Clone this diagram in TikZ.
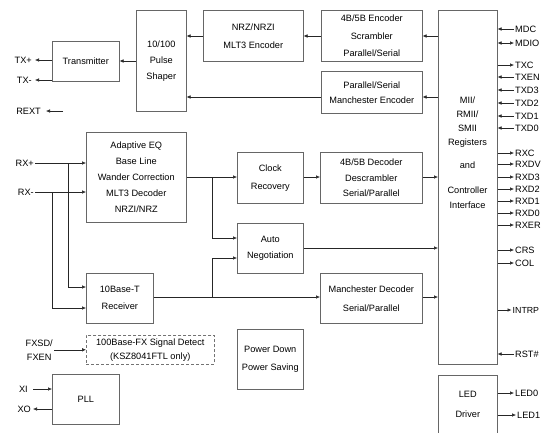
\documentclass[tikz,border=0pt]{standalone}
\usepackage{fontspec}
\setmainfont{Liberation Sans}
\usetikzlibrary{arrows.meta}
\newcommand\myfs[1]{\fontsize{9.2}{#1}\selectfont}
\begin{document}
\begin{tikzpicture}[x=1pt,y=-1pt,
  blk/.style={draw=black!60, line width=0.6pt, align=center, inner sep=0pt, anchor=north west},
  arr/.style={draw=black!85, line width=0.6pt, -{Latex[length=4pt,width=3.6pt]}},
  darr/.style={draw=black!85, line width=0.6pt, {Latex[length=4pt,width=3.6pt]}-{Latex[length=4pt,width=3.6pt]}},
  ln/.style={draw=black!85, line width=0.6pt},
  sig/.style={inner sep=1pt, font=\myfs{11}},
]
\useasboundingbox (0,0) rectangle (541,432);

% ---- blocks ----
\node[blk, minimum width=67pt, minimum height=40pt, font=\myfs{11}] (tx) at (52,41) {Transmitter};
\node[blk, minimum width=50pt, minimum height=101pt, font=\myfs{16}] (ps) at (136,10) {10/100\\Pulse\\Shaper};
\node[blk, minimum width=100pt, minimum height=51pt, font=\myfs{18}] (nrz) at (203,10) {NRZ/NRZI\\MLT3 Encoder};
\node[blk, minimum width=101pt, minimum height=51pt, font=\myfs{17.5}] (enc) at (321,10) {4B/5B Encoder\\Scrambler\\Parallel/Serial};
\node[blk, minimum width=101pt, minimum height=42pt, font=\myfs{15}] (menc) at (321,71) {Parallel/Serial\\Manchester Encoder};
\node[blk, minimum width=59pt, minimum height=354pt] (mii) at (438,10) {};
\node[align=center, inner sep=0pt, anchor=north, font=\myfs{14}] (miitxt) at (467.5,96.5)
  {MII/\\RMII/\\SMII\\Registers\\[9pt]and\\[11pt]Controller\\[1pt]Interface};
\node[blk, minimum width=100pt, minimum height=90pt, font=\myfs{16}] (aeq) at (86,132)
  {Adaptive EQ\\Base Line\\Wander Correction\\MLT3 Decoder\\NRZI/NRZ};
\node[blk, minimum width=66pt, minimum height=51pt, font=\myfs{18}] (clk) at (237,152) {Clock\\Recovery};
\node[blk, minimum width=102pt, minimum height=51pt, font=\myfs{15.5}] (dec) at (320,152) {4B/5B Decoder\\Descrambler\\Serial/Parallel};
\node[blk, minimum width=66pt, minimum height=50pt, font=\myfs{16}] (an) at (237,223) {Auto\\Negotiation};
\node[blk, minimum width=67pt, minimum height=50pt, font=\myfs{17}] (rx10) at (86,273) {10Base-T\\Receiver};
\node[blk, minimum width=102pt, minimum height=50pt, font=\myfs{19}] (mdec) at (320,273) {Manchester Decoder\\Serial/Parallel};
\node[blk, draw=black!55, dash pattern=on 3pt off 2pt, minimum width=128pt, minimum height=29pt, font=\myfs{14}] (fx) at (86,335)
  {100Base-FX Signal Detect\\(KSZ8041FTL only)};
\node[blk, minimum width=66pt, minimum height=60pt, font=\myfs{18}] (pwr) at (237,329) {Power Down\\Power Saving};
\node[blk, minimum width=67pt, minimum height=50pt, font=\myfs{11}] (pll) at (52,374) {PLL};
\node[blk, minimum width=59pt, minimum height=58pt, font=\myfs{20}] (led) at (438,375) {LED\\Driver};

% ---- internal connectors ----
\draw[arr] (mii.west |- 0,36) -- (enc.east |- 0,36);
\draw[arr] (enc.west |- 0,36) -- (nrz.east |- 0,36);
\draw[arr] (nrz.west |- 0,36) -- (ps.east |- 0,36);
\draw[arr] (mii.west |- 0,97) -- (menc.east |- 0,97);
\draw[arr] (menc.west |- 0,97) -- (ps.east |- 0,97);
\draw[arr] (ps.west |- 0,61) -- (tx.east |- 0,61);

\draw[arr] (aeq.east |- 0,177) -- (clk.west |- 0,177);
\draw[arr] (212,177) -- (212,238) -- (an.west |- 0,238);
\draw[arr] (clk.east |- 0,177) -- (dec.west |- 0,177);
\draw[arr] (dec.east |- 0,177) -- (mii.west |- 0,177);
\draw[arr] (an.east |- 0,248) -- (mii.west |- 0,248);
\draw[arr] (rx10.east |- 0,297) -- (mdec.west |- 0,297);
\draw[arr] (212,297) -- (212,258) -- (an.west |- 0,258);
\draw[arr] (mdec.east |- 0,297) -- (mii.west |- 0,297);

% ---- left pins ----
\node[sig, anchor=east] (txp) at (33,60) {TX+};
\node[sig, anchor=east] (txm) at (33,80) {TX-};
\draw[arr] (tx.west |- txp) -- ([xshift=2pt]txp.east);
\draw[arr] (tx.west |- txm) -- ([xshift=2pt]txm.east);
\node[sig, anchor=east] (rext) at (42,111) {REXT};
\coordinate (rextc) at (63,111);
\draw[arr] (rextc) -- ([xshift=4pt]rext.east);

\node[sig, anchor=east] (rxp) at (35,163) {RX+};
\node[sig, anchor=east] (rxm) at (35,192) {RX-};
\draw[arr] (rxp.east) -- (aeq.west |- rxp);
\draw[arr] (rxm.east) -- (aeq.west |- rxm);
\draw[arr] (68,163) -- (68,287) -- (rx10.west |- 0,287);
\draw[arr] (52,192) -- (52,308) -- (rx10.west |- 0,308);

\node[sig, align=center, anchor=east, font=\myfs{14}] (fxsd) at (54,350) {FXSD/\\FXEN};
\draw[arr] (fxsd.east |- fx.west) -- (fx.west);

\node[sig, anchor=east] (xi) at (29,389) {XI};
\node[sig, anchor=east] (xo) at (32,409) {XO};
\draw[arr] ([xshift=4pt]xi.east) -- (pll.west |- xi);
\draw[arr] (pll.west |- xo) -- ([xshift=1pt]xo.east);

% ---- right pins ----
\foreach \nm/\yy in {MDC/29, MDIO/43, TXC/65, TXEN/77, TXD3/90, TXD2/103, TXD1/116, TXD0/128,
  RXC/153, RXDV/164, RXD3/177, RXD2/189, RXD1/201, RXD0/213, RXER/225,
  CRS/250, COL/263, RST\#/354}{
  \node[sig, anchor=west] (p\yy) at (514,\yy) {\nm};
}
\node[sig, anchor=west, font=\fontsize{8.8}{11}\selectfont] (p310) at (511.5,310) {INTRP};
\foreach \yy in {29,77,90,103,116,128,354}{\draw[arr] (p\yy.west) -- (mii.east |- p\yy.west);}
\foreach \yy in {65,153,164,177,189,201,213,225,250,263,310}{\draw[arr] (mii.east |- p\yy.west) -- (p\yy.west);}
\draw[darr] (mii.east |- p43.west) -- (p43.west);

\node[sig, anchor=west] (led0) at (514,393) {LED0};
\node[sig, anchor=west] (led1) at (516,415) {LED1};
\draw[arr] (led.east |- led0.west) -- (led0.west);
\draw[arr] (led.east |- led1.west) -- (led1.west);
\end{tikzpicture}
\end{document}
